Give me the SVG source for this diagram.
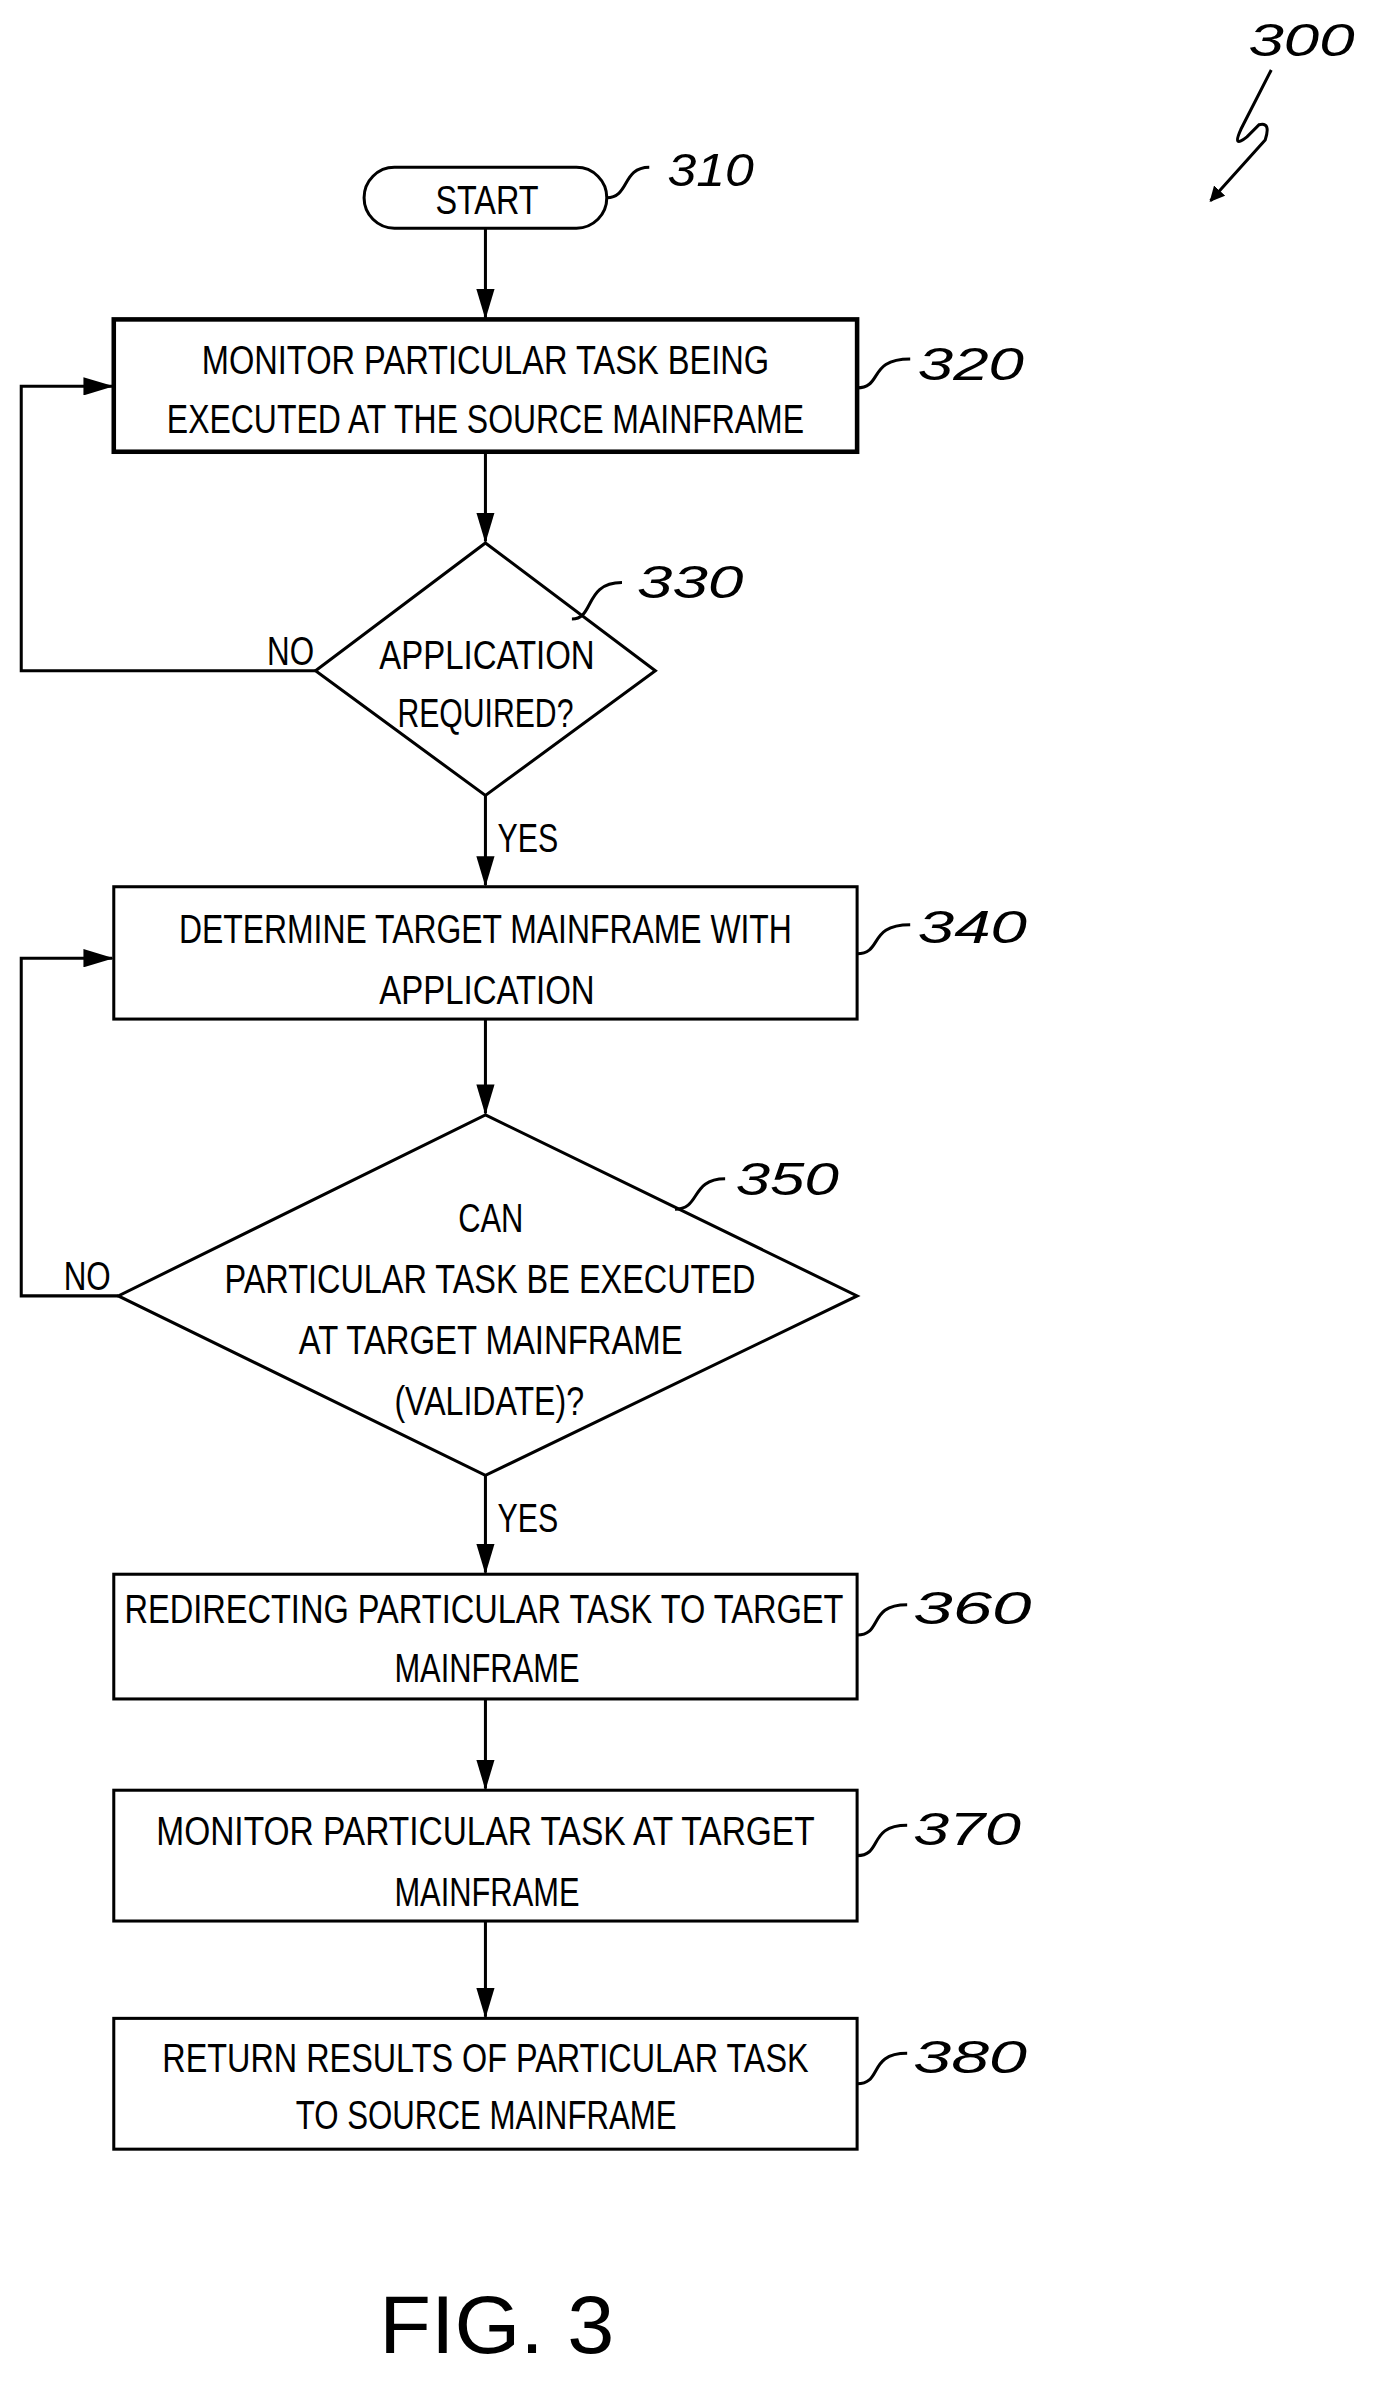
<svg xmlns="http://www.w3.org/2000/svg" width="1379" height="2385" viewBox="0 0 1379 2385">
<style>
.s{fill:none;stroke:#000;stroke-width:2}
.n{fill:#fff;stroke:#000;stroke-width:2}
.t{font-family:"Liberation Sans",Arial,sans-serif;font-size:27px;fill:#000;text-anchor:start}
.l{font-family:"Liberation Sans",Arial,sans-serif;font-size:30px;fill:#000;font-style:italic}
</style>
<defs><marker id="a" markerWidth="10" markerHeight="10" refX="9" refY="5" orient="auto" markerUnits="userSpaceOnUse"><path d="M0,0 L10,5 L0,10 Z" fill="#000"/></marker>
<marker id="b" markerWidth="20" markerHeight="12" refX="19" refY="6" orient="auto" markerUnits="userSpaceOnUse"><path d="M0,0 L20,6 L0,12 Z" fill="#000"/></marker></defs>
<rect width="1379" height="2385" fill="#fff"/>
<g transform="scale(1.517 1.521)">
<g id="connectors">
<path class="s" d="M320,150 V209" marker-end="url(#b)"/>
<path class="s" d="M320,297 V356" marker-end="url(#b)"/>
<path class="s" d="M208,441 H14 V254 H74" marker-end="url(#b)"/>
<path class="s" d="M320,523 V582" marker-end="url(#b)"/>
<path class="s" d="M78,852 H14 V630 H74" marker-end="url(#b)"/>
<path class="s" d="M320,670 V732" marker-end="url(#b)"/>
<path class="s" d="M320,970 V1034" marker-end="url(#b)"/>
<path class="s" d="M320,1117 V1176" marker-end="url(#b)"/>
<path class="s" d="M320,1263 V1326" marker-end="url(#b)"/>
<text class="t" x="176" y="437" textLength="31" lengthAdjust="spacingAndGlyphs">NO</text>
<text class="t" x="328" y="560" textLength="40" lengthAdjust="spacingAndGlyphs">YES</text>
<text class="t" x="42" y="848" textLength="31" lengthAdjust="spacingAndGlyphs">NO</text>
<text class="t" x="328" y="1007" textLength="40" lengthAdjust="spacingAndGlyphs">YES</text>
</g>
<g id="n300">
<text class="l" x="823" y="37" textLength="70" lengthAdjust="spacingAndGlyphs">300</text>
<path class="s" d="M838,46 L818,85 Q812,98 822,90 L830,82 Q838,80 834,92 L798,132" marker-end="url(#a)"/>
</g>
<g id="n310">
<rect class="n" x="240" y="110" width="160" height="40" rx="20"/>
<text class="t" x="287" y="141" textLength="68" lengthAdjust="spacingAndGlyphs">START</text>
<path class="s" d="M400,130 C415,130 410,110 428,110"/>
<text class="l" x="440" y="122" textLength="57" lengthAdjust="spacingAndGlyphs">310</text>
</g>
<g id="n320">
<rect class="n" style="stroke-width:3" x="75" y="210" width="490" height="87"/>
<text class="t" x="133" y="246" textLength="374" lengthAdjust="spacingAndGlyphs">MONITOR PARTICULAR TASK BEING</text>
<text class="t" x="110" y="285" textLength="420" lengthAdjust="spacingAndGlyphs">EXECUTED AT THE SOURCE MAINFRAME</text>
<path class="s" d="M565,255 C582,255 572,236 600,236"/>
<text class="l" x="605" y="250" textLength="70" lengthAdjust="spacingAndGlyphs">320</text>
</g>
<g id="n330">
<path class="n" d="M320,357 L432,441 L320,523 L208,441 Z"/>
<text class="t" x="250" y="440" textLength="142" lengthAdjust="spacingAndGlyphs">APPLICATION</text>
<text class="t" x="262" y="478" textLength="116" lengthAdjust="spacingAndGlyphs">REQUIRED?</text>
<path class="s" d="M377,407 C392,407 385,383 410,383"/>
<text class="l" x="420" y="393" textLength="70" lengthAdjust="spacingAndGlyphs">330</text>
</g>
<g id="n340">
<rect class="n" x="75" y="583" width="490" height="87"/>
<text class="t" x="118" y="620" textLength="404" lengthAdjust="spacingAndGlyphs">DETERMINE TARGET MAINFRAME WITH</text>
<text class="t" x="250" y="660" textLength="142" lengthAdjust="spacingAndGlyphs">APPLICATION</text>
<path class="s" d="M565,627 C582,627 572,608 600,608"/>
<text class="l" x="605" y="620" textLength="72" lengthAdjust="spacingAndGlyphs">340</text>
</g>
<g id="n350">
<path class="n" d="M320,733 L565,852 L320,970 L78,852 Z"/>
<text class="t" x="302" y="810" textLength="43" lengthAdjust="spacingAndGlyphs">CAN</text>
<text class="t" x="148" y="850" textLength="350" lengthAdjust="spacingAndGlyphs">PARTICULAR TASK BE EXECUTED</text>
<text class="t" x="197" y="890" textLength="253" lengthAdjust="spacingAndGlyphs">AT TARGET MAINFRAME</text>
<text class="t" x="260" y="930" textLength="125" lengthAdjust="spacingAndGlyphs">(VALIDATE)?</text>
<path class="s" d="M445,795 C462,795 455,775 478,775"/>
<text class="l" x="485" y="786" textLength="68" lengthAdjust="spacingAndGlyphs">350</text>
</g>
<g id="n360">
<rect class="n" x="75" y="1035" width="490" height="82"/>
<text class="t" x="82" y="1067" textLength="474" lengthAdjust="spacingAndGlyphs">REDIRECTING PARTICULAR TASK TO TARGET</text>
<text class="t" x="260" y="1106" textLength="122" lengthAdjust="spacingAndGlyphs">MAINFRAME</text>
<path class="s" d="M565,1075 C582,1075 572,1055 598,1055"/>
<text class="l" x="602" y="1068" textLength="78" lengthAdjust="spacingAndGlyphs">360</text>
</g>
<g id="n370">
<rect class="n" x="75" y="1177" width="490" height="86"/>
<text class="t" x="103" y="1213" textLength="434" lengthAdjust="spacingAndGlyphs">MONITOR PARTICULAR TASK AT TARGET</text>
<text class="t" x="260" y="1253" textLength="122" lengthAdjust="spacingAndGlyphs">MAINFRAME</text>
<path class="s" d="M565,1220 C582,1220 572,1200 598,1200"/>
<text class="l" x="602" y="1213" textLength="71" lengthAdjust="spacingAndGlyphs">370</text>
</g>
<g id="n380">
<rect class="n" x="75" y="1327" width="490" height="86"/>
<text class="t" x="107" y="1362" textLength="426" lengthAdjust="spacingAndGlyphs">RETURN RESULTS OF PARTICULAR TASK</text>
<text class="t" x="195" y="1400" textLength="251" lengthAdjust="spacingAndGlyphs">TO SOURCE MAINFRAME</text>
<path class="s" d="M565,1370 C582,1370 572,1350 598,1350"/>
<text class="l" x="602" y="1363" textLength="75" lengthAdjust="spacingAndGlyphs">380</text>
</g>
<text class="t" style="font-size:54px" x="250" y="1547" textLength="155" lengthAdjust="spacingAndGlyphs">FIG. 3</text>
</g>
</svg>
